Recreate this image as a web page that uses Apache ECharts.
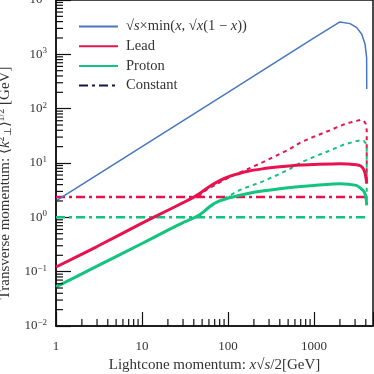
<!DOCTYPE html>
<html>
<head>
<meta charset="utf-8">
<script src="https://cdn.jsdelivr.net/npm/echarts@6/dist/echarts.min.js"></script>
<style>
html, body { margin: 0; padding: 0; background: #fff; }
#chart { width: 374px; height: 374px; }
</style>
</head>
<body>
<div id="chart"></div>
<script>
// axis ranges and tick labels
const xMin = 1, xMax = 4850;
const yMin = 0.01, yMax = 10000;
const xTickLabels = ['1', '10', '100', '1000'];
const yTickExponents = ['−2', '−1', '0', '1', '2', '3', '4'];
const xMinorTicks = [2, 3, 4, 5, 6, 7, 8, 9, 20, 30, 40, 50, 60, 70, 80, 90,
    200, 300, 400, 500, 600, 700, 800, 900, 2000, 3000, 4000];
const yMinorTicks = [0.02, 0.03, 0.04, 0.05, 0.06, 0.07, 0.08, 0.09,
    0.2, 0.3, 0.4, 0.5, 0.6, 0.7, 0.8, 0.9, 2, 3, 4, 5, 6, 7, 8, 9,
    20, 30, 40, 50, 60, 70, 80, 90, 200, 300, 400, 500, 600, 700, 800, 900,
    2000, 3000, 4000, 5000, 6000, 7000, 8000, 9000];

// series values, [lightcone momentum, transverse momentum]
const envelope = [[1, 2], [10, 20], [100, 200], [1000, 2000], [2000, 3945], [2620, 3675],
    [3140, 3105], [3590, 2350], [3920, 1540], [4090, 870], [4100, 230]];
const leadFull = [[1, 0.122], [3, 0.29], [10, 0.78], [20, 1.35], [30, 1.86], [41, 2.4],
    [50, 2.95], [58, 3.5], [67, 4.05], [80, 4.75], [95, 5.35], [120, 6.1], [165, 7.0],
    [250, 7.8], [400, 8.5], [700, 9.2], [1000, 9.4], [2000, 9.7], [3100, 9.3], [3500, 8.8],
    [3750, 7.8], [3950, 6.2], [4050, 4.9], [4100, 4.2]];
const protonFull = [[1, 0.0526], [3, 0.126], [10, 0.33], [20, 0.58], [30, 0.8], [40, 0.98],
    [47, 1.12], [55, 1.36], [62, 1.6], [70, 1.82], [80, 2.0], [95, 2.2], [120, 2.42],
    [165, 2.72], [250, 3.05], [400, 3.37], [700, 3.7], [1000, 3.87], [2000, 4.15],
    [3100, 3.87], [3500, 3.4], [3750, 3.1], [3950, 2.6], [4050, 2.1], [4100, 1.66]];
const leadNoSat = [[45, 2.4], [56, 3.2], [80, 4.4], [105, 5.5], [160, 7.4], [255, 10.4],
    [400, 14.7], [526, 18.2], [700, 24], [1000, 30.5], [1535, 40], [2200, 51], [3000, 59],
    [3500, 62], [3800, 60], [4000, 52], [4100, 40], [4100, 4.8]];
const protonNoSat = [[45, 1.0], [56, 1.42], [80, 2.0], [138, 3.2], [255, 4.6], [400, 6.3],
    [526, 7.8], [700, 10.2], [1000, 13], [1535, 17], [2200, 21.7], [3000, 25], [3500, 26.2],
    [3800, 25.5], [4000, 23], [4100, 20], [4100, 1.7]];
const leadConst = [[1, 2.37], [4100, 2.37]];
const protonConst = [[1, 1.0], [4100, 1.0]];

const envName = '√s×min(x, √x(1−x))';
const red = '#e8124f';
const green = '#12c47f';
const blue = '#4677c0';
const navy = '#14144a';
const serif = 'Liberation Serif';
const textColor = '#333';

const chart = echarts.init(document.getElementById('chart'));

const lineSeries = (name, data, color, width, type, z, smooth = false) => ({
    name,
    type: 'line',
    data,
    symbol: 'none',
    showSymbol: false,
    smooth,
    lineStyle: { color, width, type },
    itemStyle: { color },
    silent: true,
    z,
});

const minorTicks = (data, horizontal) => ({
    type: 'custom',
    data,
    silent: true,
    clip: false,
    z: 5,
    renderItem: (params, api) => {
        const p = api.coord([api.value(0), api.value(1)]);
        return {
            type: 'line',
            shape: horizontal
                ? { x1: p[0], y1: p[1], x2: p[0], y2: p[1] - 7 }
                : { x1: p[0], y1: p[1], x2: p[0] + 7, y2: p[1] },
            style: { stroke: '#111', lineWidth: 1.2 },
        };
    },
});

const italic = (size) => ({ fontFamily: serif, fontSize: size, fontStyle: 'italic', color: textColor });

const option = {
    animation: false,
    textStyle: { fontFamily: serif },
    grid: {
        left: 56,
        right: 1,
        top: 0,
        bottom: 48,
        show: true,
        borderColor: '#111',
        borderWidth: 1.5,
        outerBoundsMode: 'none',
    },
    legend: {
        left: 78,
        top: 19,
        padding: 0,
        orient: 'vertical',
        itemWidth: 39,
        itemHeight: 14,
        itemGap: 4.7,
        itemStyle: { opacity: 0 },
        data: [envName, 'Lead', 'Proton', 'Constant'],
        formatter: (name) => name === envName
            ? '√{i|s}×min({i|x}, √{i|x}(1 − {i|x}))'
            : name,
        textStyle: {
            fontFamily: serif,
            fontSize: 14.5,
            lineHeight: 14,
            color: textColor,
            padding: [0, 0, 0, 3],
            rich: { i: italic(14.5) },
        },
    },
    xAxis: {
        type: 'log',
        logBase: 10,
        min: xMin,
        max: xMax,
        name: 'Lightcone momentum: {i|x}√{i|s}/2[GeV]',
        nameLocation: 'middle',
        nameGap: 30,
        nameTextStyle: {
            fontFamily: serif,
            fontSize: 15,
            color: textColor,
            rich: { i: italic(15) },
        },
        axisLine: { show: true, lineStyle: { color: '#111', width: 1.5 } },
        axisTick: { show: true, inside: true, length: 14, lineStyle: { color: '#111', width: 1.2 } },
        splitLine: { show: false },
        axisLabel: {
            fontFamily: serif,
            fontSize: 13,
            color: textColor,
            margin: 14,
            formatter: (v) => xTickLabels[Math.round(Math.log10(v))] ?? '',
        },
    },
    yAxis: {
        type: 'log',
        logBase: 10,
        min: yMin,
        max: yMax,
        name: 'Transverse momentum: ⟨{i|k}{sup|2}{sub|⊥}⟩{sup|1/2} [GeV]',
        nameLocation: 'middle',
        nameGap: 36,
        nameTextStyle: {
            fontFamily: serif,
            fontSize: 15,
            color: textColor,
            padding: [0, 40, 0, 0],
            rich: {
                i: italic(15),
                sup: { fontFamily: serif, fontSize: 10, color: textColor, padding: [0, 0, 8, 0] },
                sub: { fontFamily: serif, fontSize: 10, color: textColor, padding: [6, 0, 0, 0] },
            },
        },
        axisLine: { show: true, lineStyle: { color: '#111', width: 1.5 } },
        axisTick: { show: true, inside: true, length: 15, lineStyle: { color: '#111', width: 1.2 } },
        splitLine: { show: false },
        axisLabel: {
            margin: 9,
            formatter: (v) => '{b|10}{s|' + yTickExponents[Math.round(Math.log10(v)) + 2] + '}',
            rich: {
                b: { fontFamily: serif, fontSize: 13, color: textColor },
                s: { fontFamily: serif, fontSize: 9, color: textColor, padding: [0, 0, 7, 0] },
            },
        },
    },
    series: [
        lineSeries(envName, envelope, blue, 1.5, 'solid', 3),
        lineSeries('Lead', leadFull, red, 3, 'solid', 4, 0.2),
        lineSeries('Proton', protonFull, green, 3, 'solid', 4, 0.2),
        lineSeries('Lead no saturation', leadNoSat, red, 2, [4, 4], 2),
        lineSeries('Proton no saturation', protonNoSat, green, 2, [4, 4], 2),
        lineSeries('Lead constant', leadConst, red, 2.5, [9, 4, 3, 4], 2),
        lineSeries('Proton constant', protonConst, green, 2.5, [9, 4, 3, 4], 2),
        lineSeries('Constant', [], navy, 2.5, [9, 4, 3, 4], 2),
        minorTicks(xMinorTicks.map((v) => [v, yMin]), true),
        minorTicks(yMinorTicks.map((v) => [xMin, v]), false),
    ],
};

chart.setOption(option);
</script>
</body>
</html>
